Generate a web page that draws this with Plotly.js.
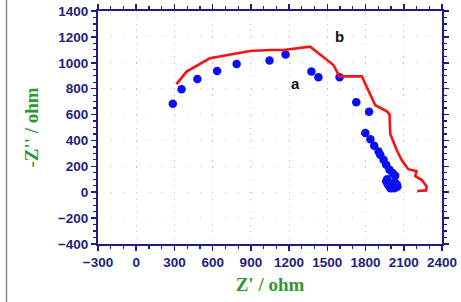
<!DOCTYPE html>
<html>
<head>
<meta charset="utf-8">
<script src="https://cdn.plot.ly/plotly-3.0.1.min.js"></script>
<style>
  html, body { margin: 0; padding: 0; background: #fff; }
  #chart { width: 461px; height: 302px; }
</style>
</head>
<body>
<div id="chart"></div>
<script>
// Nyquist plot: sample a (blue markers) and sample b (red line)
const seriesA_re = [287, 356, 480, 635, 788, 1046, 1172, 1375, 1430, 1596, 1727, 1828,
  1798, 1838, 1868, 1902, 1915, 1941, 1962, 1988, 2012, 2033,
  1970, 1962, 2000, 2030, 2045, 1985, 2010, 2040, 1995, 2025, 2050, 1975];
const seriesA_im = [683, 796, 874, 937, 990, 1018, 1064, 932, 888, 888, 696, 622,
  458, 410, 359, 315, 289, 251, 212, 173, 148, 127,
  100, 85, 70, 75, 60, 50, 40, 40, 30, 30, 45, 60];

const seriesB_re = [316, 395, 578, 710, 893, 1050, 1155, 1365, 1548, 1595, 1771, 1876,
  1967, 1988, 1994, 2046, 2086, 2135, 2200, 2190, 2240, 2280, 2275, 2205];
const seriesB_im = [835, 932, 1035, 1060, 1091, 1099, 1099, 1124, 983, 895, 895, 672,
  625, 600, 450, 322, 245, 178, 162, 125, 96, 45, 14, 10];

const xTitle = "Z' / ohm";
const yTitle = "-Z'' / ohm";
const labelA = "a";
const labelB = "b";

const navy = '#1e1e80';
const green = '#2e9a2e';

const traces = [
  {
    x: seriesA_re, y: seriesA_im, type: 'scatter', mode: 'markers',
    marker: { color: '#0a10f0', size: 8.5 }, name: labelA, hoverinfo: 'x+y'
  },
  {
    x: seriesB_re, y: seriesB_im, type: 'scatter', mode: 'lines',
    line: { color: '#f41414', width: 2.6 }, name: labelB, hoverinfo: 'x+y'
  }
];

const tickFont = { family: 'Liberation Sans, Arial, sans-serif', size: 13.5, color: navy, weight: 'bold' };
const titleFont = { family: 'Liberation Serif, Times New Roman, serif', size: 19, color: green, weight: 'bold' };

const layout = {
  width: 461, height: 302,
  margin: { l: 98, r: 19, t: 11, b: 58 },
  paper_bgcolor: '#ffffff', plot_bgcolor: '#ffffff',
  showlegend: false,
  xaxis: {
    range: [-300, 2400], tick0: 0, dtick: 300,
    showline: true, linecolor: navy, linewidth: 2, mirror: 'ticks',
    ticks: 'outside', ticklen: 5, tickwidth: 1.5, tickcolor: navy,
    minor: { dtick: 100, ticks: 'outside', ticklen: 3, tickwidth: 1.2, tickcolor: navy, showgrid: false },
    showgrid: true, gridcolor: '#c4c4c4', gridwidth: 1, griddash: '1px,5.48px',
    zeroline: false, tickfont: tickFont,
    title: { text: xTitle, font: titleFont, standoff: 8 }
  },
  yaxis: {
    range: [-400, 1400], tick0: 0, dtick: 200,
    showline: true, linecolor: navy, linewidth: 2, mirror: 'ticks',
    ticks: 'outside', ticklen: 5, tickwidth: 1.5, tickcolor: navy,
    minor: { dtick: 50, ticks: 'outside', ticklen: 3, tickwidth: 1.2, tickcolor: navy, showgrid: false },
    showgrid: true, gridcolor: '#c4c4c4', gridwidth: 1, griddash: '1px,11.72px',
    zeroline: false, tickfont: tickFont,
    title: { text: yTitle, font: titleFont, standoff: 14 }
  },
  annotations: [
    { x: 1254, y: 842, xref: 'x', yref: 'y', text: labelA, showarrow: false,
      font: { family: 'Liberation Sans, Arial, sans-serif', size: 15, color: '#111', weight: 'bold' } },
    { x: 1595, y: 1202, xref: 'x', yref: 'y', text: labelB, showarrow: false,
      font: { family: 'Liberation Sans, Arial, sans-serif', size: 15, color: '#111', weight: 'bold' } }
  ],
  shapes: [
    { type: 'line', xref: 'paper', yref: 'paper', x0: -0.266, x1: -0.266, y0: -0.3, y1: 1.1,
      line: { color: '#8a8a8a', width: 1.5 } }
  ]
};

Plotly.newPlot('chart', traces, layout, { staticPlot: true, displayModeBar: false });
</script>
</body>
</html>
